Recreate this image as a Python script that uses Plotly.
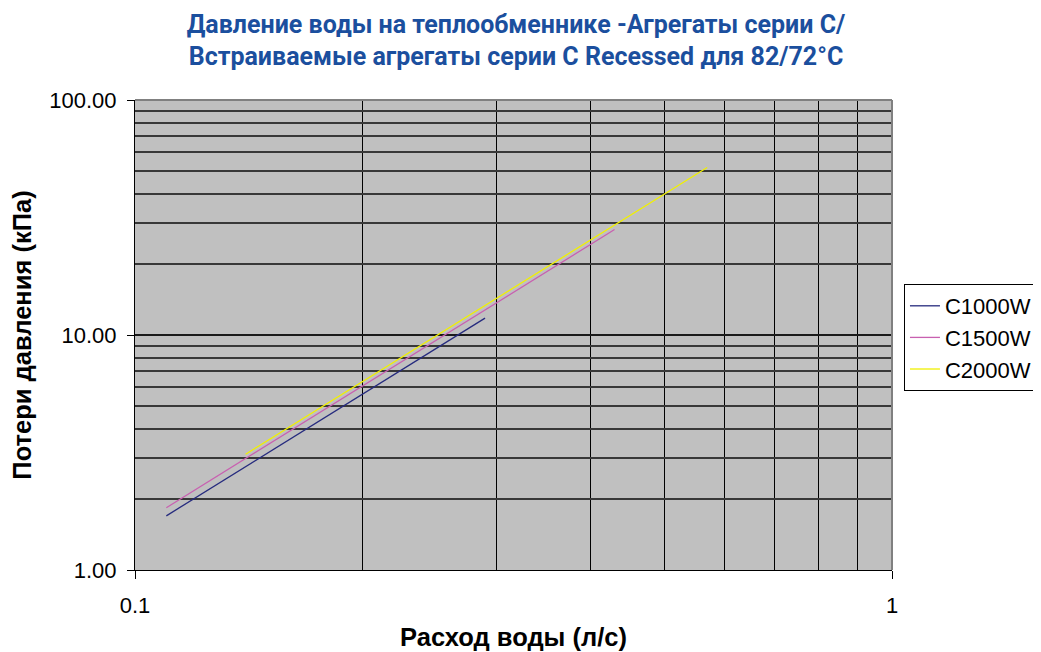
import plotly.graph_objects as go

# Data (flow l/s, pressure loss kPa)
c1000_flow = [0.11, 0.15, 0.20, 0.25, 0.29]
c1000_dp = [1.70, 3.16, 5.62, 8.78, 11.8]
c1500_flow = [0.11, 0.20, 0.30, 0.43]
c1500_dp = [1.84, 6.08, 13.7, 28.1]
c2000_flow = [0.14, 0.20, 0.30, 0.40, 0.57]
c2000_dp = [3.11, 6.35, 14.3, 25.4, 51.6]

y_major = [1, 10, 100]
y_major_text = ["1.00", "10.00", "100.00"]
x_major = [0.1, 1]
x_major_text = ["0.1", "1"]
y_minor = [2, 3, 4, 5, 6, 7, 8, 9, 20, 30, 40, 50, 60, 70, 80, 90]
x_minor = [0.2, 0.3, 0.4, 0.5, 0.6, 0.7, 0.8, 0.9]

fig = go.Figure()
fig.add_trace(go.Scatter(x=c1000_flow, y=c1000_dp, mode="lines", name="C1000W",
                         line=dict(color="#262b7e", width=1.3)))
fig.add_trace(go.Scatter(x=c1500_flow, y=c1500_dp, mode="lines", name="C1500W",
                         line=dict(color="#c860b0", width=1.3)))
fig.add_trace(go.Scatter(x=c2000_flow, y=c2000_dp, mode="lines", name="C2000W",
                         line=dict(color="#f0f000", width=1.3)))

fig.update_layout(
    width=1041, height=652,
    margin=dict(l=127, r=155, t=92, b=90),
    paper_bgcolor="white", plot_bgcolor="#c0c0c0",
    title=dict(text="Давление воды на теплообменнике -Агрегаты серии C/<br>Встраиваемые агрегаты серии C Recessed для 82/72°C",
               x=0.488, xanchor="center", xref="container", y=0.962, yanchor="top",
               font=dict(family="Roboto", size=25, color="#1b4f9e", weight="bold")),
    font=dict(family="Liberation Sans, Arial", size=22, color="black"),
    legend=dict(x=1.0158, xanchor="left", y=0.6085, yanchor="top",
                bordercolor="black", borderwidth=1, bgcolor="white",
                font=dict(size=22), tracegroupgap=0, itemwidth=30),
    showlegend=True,
)
fig.update_xaxes(type="log", range=[-1, 0], tickvals=x_major, ticktext=x_major_text,
                 ticks="outside", ticklen=8, tickcolor="black", ticklabelstandoff=8,
                 showgrid=True, gridcolor="#000000", gridwidth=1, automargin=False,
                 showline=True, linecolor="black", linewidth=1, mirror=False,
                 minor=dict(tickvals=x_minor, showgrid=True, gridcolor="#000000", gridwidth=1, ticks=""),
                 title=dict(text="<b>Расход воды (л/с)</b>", font=dict(size=25.5), standoff=10),
                 zeroline=False)
fig.update_yaxes(type="log", range=[0, 2], tickvals=y_major, ticktext=y_major_text,
                 ticks="outside", ticklen=7, tickcolor="black", ticklabelstandoff=6,
                 showgrid=True, gridcolor="#1a1a1a", gridwidth=2, automargin=False,
                 showline=True, linecolor="black", linewidth=1,
                 minor=dict(tickvals=y_minor, showgrid=True, gridcolor="#383838", gridwidth=2, ticks=""),
                 title=dict(text="<b>Потери давления (кПа)</b>", font=dict(size=25.5), standoff=14),
                 zeroline=False)
# border of plot area (top and right)
fig.add_shape(type="line", xref="paper", yref="paper", x0=0, y0=1, x1=1, y1=1,
              line=dict(color="#808080", width=2), layer="above")
fig.add_shape(type="line", xref="paper", yref="paper", x0=1, y0=0, x1=1, y1=1,
              line=dict(color="#808080", width=2), layer="above")

fig.write_html("out.html")
